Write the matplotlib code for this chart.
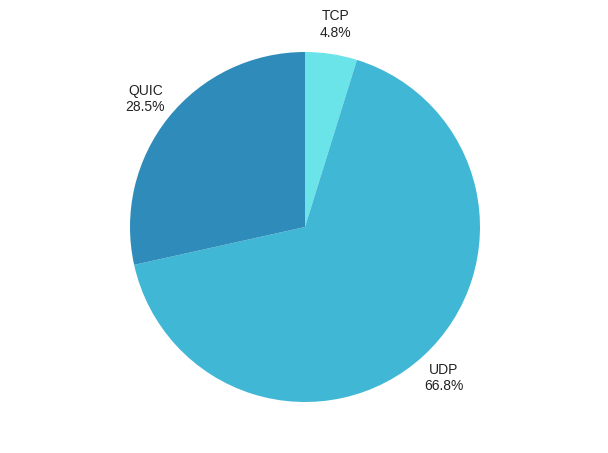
import matplotlib.pyplot as plt

labels = ['TCP', 'UDP', 'QUIC']
values = [4.8, 66.8, 28.5]
colors = ['#6ae4e8', '#41b7d6', '#2e8bba']

plt.rcParams['font.family'] = ['Liberation Sans', 'DejaVu Sans']

fig = plt.figure(figsize=(6.08, 4.53), dpi=100)
ax = fig.add_axes([(305 - 175) / 608, (453 - 227 - 175) / 453, 350 / 608, 350 / 453])

texts = ['{}\n{:.1f}%'.format(l, v) for l, v in zip(labels, values)]
wedges, txts = ax.pie(values, labels=texts, colors=colors, startangle=90,
                      counterclock=False, labeldistance=1.17,
                      wedgeprops=dict(linewidth=0),
                      textprops=dict(fontsize=10, color='#222222'))
for t in txts:
    t.set_ha('center')
    t.set_va('center')
    t.set_multialignment('center')
ax.set_xlim(-1, 1)
ax.set_ylim(-1, 1)
ax.set_aspect('equal')

fig.savefig('out.png', dpi=100)
